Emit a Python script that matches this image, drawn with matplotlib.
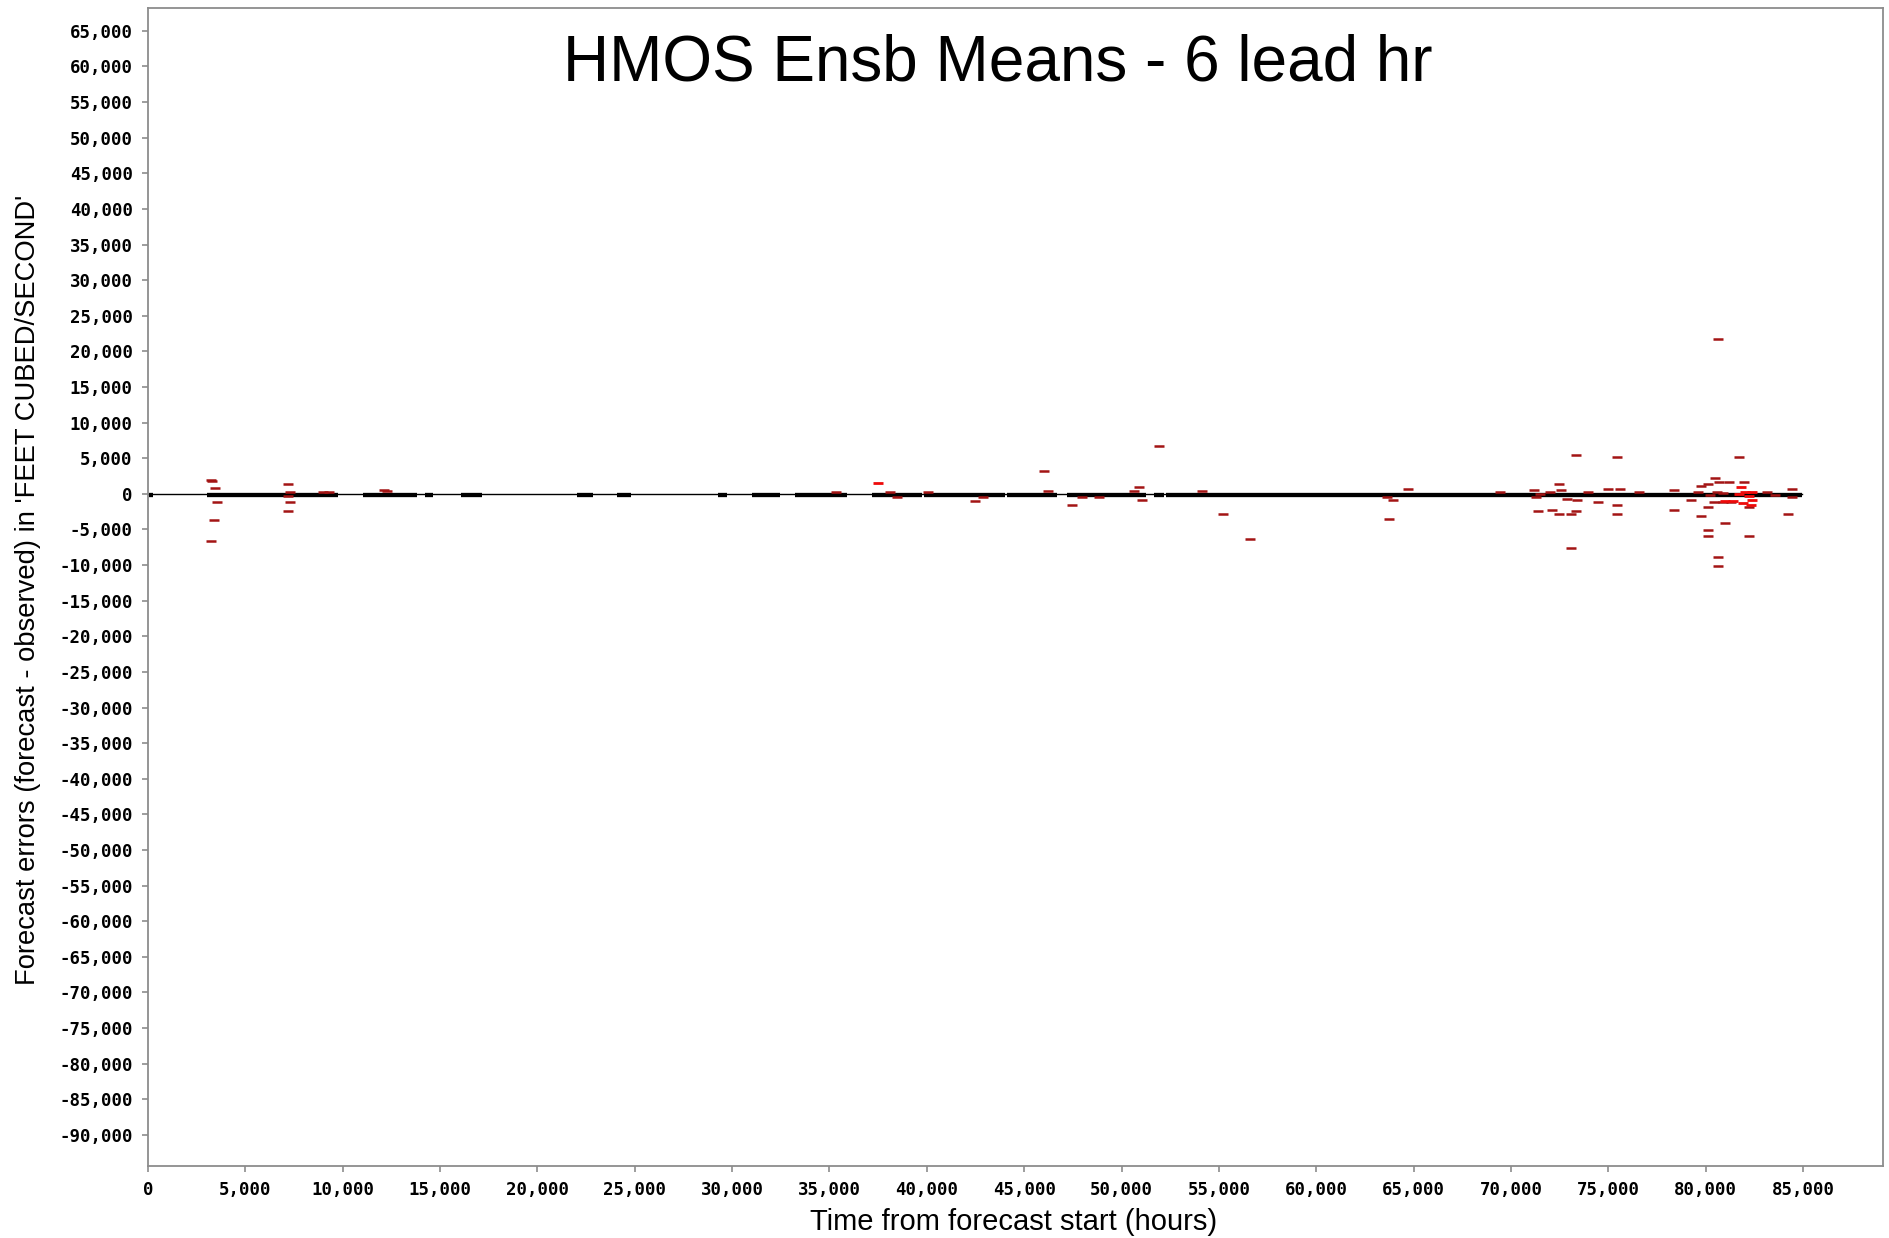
import matplotlib
matplotlib.use('Agg')
import matplotlib.pyplot as plt
from matplotlib.ticker import FuncFormatter

# chart text
title = 'HMOS Ensb Means - 6 lead hr'
x_label = 'Time from forecast start (hours)'
y_label = "Forecast errors (forecast - observed) in 'FEET CUBED/SECOND'"

# hours where the near-zero errors (black) pile up into a thick band
band_start = [50, 3030, 11040, 14220, 16070, 22020, 24070, 29260, 31000, 33210,
              37160, 39880, 44140, 47220, 51690, 52300]
band_end = [260, 9750, 13810, 14630, 17140, 22840, 24790, 29720, 32440, 35880,
            39730, 43990, 46710, 51280, 52200, 84960]
band_level = -180
line_end = 84960

# larger errors (dark red)
err_x = [3230, 3300, 3440, 3530, 3390, 3230,
         7200, 7290, 7200, 7290, 7200,
         9000, 9300, 12100, 12300,
         35350, 38090, 38460, 40060, 42450, 42880,
         46000, 46210, 47470, 47980, 48830, 50660, 50920, 51040, 51920,
         54140, 55230, 56600, 63620, 63930, 63720, 64690, 69450,
         71200, 71500, 71300, 71370, 72000, 72100, 72480, 72560, 72480,
         72900, 73400, 73080, 73350, 73100, 73330, 73930, 74450, 75000,
         75600, 75420, 75420, 75420, 76550, 78390, 78390, 79240, 79750,
         79750, 80120, 80490, 80700, 81200, 81980, 81720, 80610, 80110,
         80400, 80900, 81300, 80980, 80110, 80110, 80610, 80610, 82200,
         84200, 84440, 84420, 83170, 83570, 82240, 79600, 80200, 80600, 80900]
err_y = [1900, 1780, 860, -1160, -3730, -6630,
         1410, 300, -300, -1160, -2470,
         300, 300, 600, 350,
         300, 300, -460, 300, -1070, -460,
         3240, 340, -1530, -460, -460, 340, 1000, -930, 6740,
         340, -2800, -6300, -400, -930, -3500, 660, 250,
         500, 0, -400, -2450, 300, -2200, 1320, 600, -2800,
         -700, -900, -2800, -2400, -7560, 5450, 300, -1200, 700,
         700, 5150, -1500, -2800, 300, 500, -2200, -880, 1040,
         -3130, 1360, 2280, 1640, 1640, 1640, 5150, 21700, -1860,
         -1160, -1160, -1160, -4100, -5040, -5970, -8870, -10100, -5970,
         -2800, 690, -500, 300, -100, -1860, 200, -200, 300, 100]

# errors drawn in bright red
hot_x = [37490, 81800, 82000, 82200, 82400, 82300, 81900, 81000, 81400, 81700, 82400]
hot_y = [1500, 900, 300, -300, -900, -1500, -1300, -950, -950, 0, 300]

y_ticks = list(range(-90000, 65001, 5000))
x_ticks = list(range(0, 85001, 5000))

plt.rcParams['font.family'] = ['Liberation Sans', 'DejaVu Sans']

fig = plt.figure(figsize=(18.89, 12.38), dpi=100)
ax = fig.add_axes([0.0783, 0.0582, 0.9185, 0.9353])

ax.plot([0, line_end], [0, 0], color='black', lw=1.0, zorder=2)
ax.hlines([band_level] * len(band_start), band_start, band_end,
          color='black', lw=3.1, zorder=3)
ax.plot(err_x, err_y, ls='none', marker='_', ms=7.6, mew=1.8,
        color='#a31414', zorder=4)
ax.plot(hot_x, hot_y, ls='none', marker='_', ms=7.6, mew=2.0,
        color='#ee0a0a', zorder=5)

ax.set_xlim(0, 89100)
ax.set_ylim(-94350, 68200)
ax.set_xticks(x_ticks)
ax.set_yticks(y_ticks)
fmt = FuncFormatter(lambda v, p: f'{int(v):,}')
ax.xaxis.set_major_formatter(fmt)
ax.yaxis.set_major_formatter(fmt)

for s in ax.spines.values():
    s.set_color('#8c8c8c')
    s.set_linewidth(1.3)
ax.tick_params(direction='out', length=4, width=1.2, color='#8c8c8c',
               labelcolor='black', pad=7)
for lab in ax.get_xticklabels() + ax.get_yticklabels():
    lab.set_family('DejaVu Sans Mono')
    lab.set_fontsize(12.5)
    lab.set_fontweight('bold')

fig.text(0.528, 0.9352, title, fontsize=46, ha='center', va='baseline')
fig.text(0.5363, 0.0065, x_label, fontsize=21, ha='center', va='baseline')
fig.text(0.0147, 0.5234, y_label, fontsize=19.7, rotation=90,
         ha='center', va='center')

fig.savefig('out.png', dpi=100, facecolor='white')
